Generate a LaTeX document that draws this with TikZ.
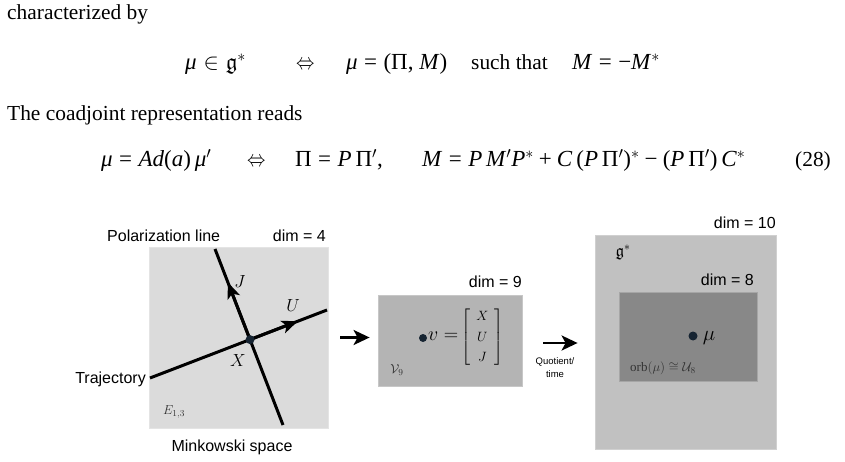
\RequirePackage{fix-cm}
\documentclass[tikz,border=0pt]{standalone}
\usepackage{amsmath}
\usepackage{amssymb}
\usepackage{graphicx}
\usepackage{fontspec}
\setmainfont{Liberation Serif}
\newfontfamily\hv{Liberation Sans}
\usetikzlibrary{arrows.meta,calc}
\definecolor{boxA}{gray}{0.86}
\definecolor{boxB}{gray}{0.705}
\definecolor{boxC}{gray}{0.755}
\definecolor{boxD}{gray}{0.535}
\definecolor{dotc}{RGB}{22,36,50}
\newcommand\msp{\hspace{0.28em}}
\newcommand\bsp{\hspace{0.22em}}
\newcommand\vi[1]{\textit{#1}}
\newcommand\iffsym{\scalebox{0.8}[1]{$\Leftrightarrow$}}
\begin{document}
\begin{tikzpicture}[x=1pt,y=-1pt,
  txt/.style={anchor=base west,inner sep=0pt,font=\fontsize{21.4}{26}\selectfont},
  eqn/.style={anchor=base west,inner sep=0pt,font=\fontsize{23}{27}\selectfont},
  lab/.style={inner sep=0pt,font=\hv\fontsize{16}{19}\selectfont},
  small/.style={inner sep=0pt,anchor=base,font=\hv\fontsize{9.5}{11}\selectfont},
  mlab/.style={inner sep=0pt,font=\fontsize{17.5}{20}\selectfont},
  slab/.style={inner sep=0pt,text=black!80,font=\fontsize{13}{15}\selectfont},
  panel/.style={draw=#1!75!white,line width=0.8pt,fill=#1,inner sep=0pt},
  heavy/.style={line width=3pt,black},
  midarrow/.style={line width=3pt,-{Stealth[length=16pt,width=13pt,inset=4pt]}},
  bigarrow/.style={line width=2.6pt,-{Stealth[length=16pt,width=15pt,inset=4pt]}},
  pt/.style={circle,fill=dotc,inner sep=0pt,minimum size=#1}]
\useasboundingbox (0,0) rectangle (845,462);
\fill[white] (0,0) rectangle (845,462);

% ---- text above the figure ----
\node[txt] (l1) at (7,20) {characterized by};
\node[eqn] (e1a) at (185,70) {\vi{μ}\hspace{0.3em}$\in$\hspace{0.3em}$\mathfrak{g}^{*}$};
\node[eqn] (e1b) at (296,70) {\iffsym};
\node[eqn] (e1c) at (346,70) {\vi{μ}\msp=\msp(Π, \vi{M})};
\node[txt] (e1d) at (471,70) {such that};
\node[eqn] (e1e) at (572,70) {\vi{M}\msp=\msp−\vi{M}$^{*}$};
\node[txt] (l3) at (7,121) {The coadjoint representation reads};
\node[eqn] (e2a) at (101,167) {\vi{μ}\msp=\msp\vi{Ad}(\vi{a})\,\vi{μ}$'$};
\node[eqn] (e2b) at (247,167) {\iffsym};
\node[eqn] (e2c) at (295,167) {Π\msp=\msp\vi{P}\,Π$'$,};
\node[eqn] (e2d) at (422,167) {\vi{M}\msp=\msp\vi{P}\,\vi{M}$'$\vi{P}$^{*}$\bsp+\bsp\vi{C}\,(\vi{P}\,Π$'$)$^{*}$\bsp−\bsp(\vi{P}\,Π$'$)\,\vi{C}$^{*}$};
\node[txt] (e2e) at (795,167) {(28)};

% ---- panels ----
\node[panel=boxA,minimum width=179pt,minimum height=181pt] (lbox) at (238.5,337.5) {};
\node[panel=boxB,minimum width=144pt,minimum height=91pt] (mbox) at (450,340.5) {};
\node[panel=boxC,minimum width=181pt,minimum height=214pt] (rbox) at (685.5,342) {};
\node[panel=boxD,minimum width=138pt,minimum height=89pt] (ibox) at (688,336.5) {};

% ---- Minkowski space ----
\coordinate (T1) at (150,378);
\coordinate (T2) at (327,310);
\coordinate (P1) at (215,249);
\coordinate (P2) at (283,425);
\coordinate (X) at (intersection of T1--T2 and P1--P2);
\coordinate (Utip) at ($(T1)!0.835!(T2)$);
\coordinate (Jtip) at ($(P2)!0.81!(P1)$);
\draw[heavy] (T1) -- (T2);
\draw[heavy] (P1) -- (P2);
\draw[midarrow] (X) -- (Utip);
\draw[midarrow] (X) -- (Jtip);
\node[pt=9pt] (xdot) at (X) {};

\node[lab,anchor=base west] (pol) at (107,242) {Polarization line};
\node[lab,anchor=base east] (d4) at (326,242) {dim = 4};
\node[lab,anchor=base east] (traj) at (146,383) {Trajectory};
\node[lab,anchor=base] (mink) at (232,451) {Minkowski space};
\node[mlab] (J) at (240,282) {$J$};
\node[mlab] (U) at (293,306) {$U$};
\node[mlab] (Xl) at (238,361) {$X$};
\node[slab] (E) at (174,412) {$E_{1,3}$};

% ---- middle panel ----
\node[lab,anchor=base east] (d9) at (522,287) {dim = 9};
\node[pt=8pt] (vdot) at (423,338) {};
\node[inner sep=0pt,anchor=west] (veq) at (428,337)
  {{\fontsize{20}{22}\selectfont$v=$}\hspace{3pt}{\fontsize{13.5}{20.5}\selectfont$\left[\hspace{6pt}\begin{matrix}X\\U\\J\end{matrix}\hspace{6pt}\right]$}};
\node[slab] (V9) at (397,370) {$\mathcal{V}_{9}$};

% ---- right panel ----
\node[lab,anchor=base east] (d10) at (776,229) {dim = 10};
\node[lab,anchor=base east] (d8) at (754,285) {dim = 8};
\node[inner sep=0pt,font=\fontsize{17}{19}\selectfont] (g) at (623,252) {$\mathfrak{g}^{*}$};
\node[pt=9pt] (mudot) at (693,336) {};
\node[inner sep=0pt,font=\fontsize{21}{24}\selectfont] (mu) at (709,338) {$\mu$};
\node[slab] (orb) at (663,368) {$\mathrm{orb}(\mu)\cong\mathcal{U}_{8}$};

% ---- arrows ----
\draw[bigarrow,shorten <=12pt,shorten >=8pt] (lbox.east) -- (lbox.east -| mbox.west);
\draw[bigarrow,shorten <=21pt,shorten >=17pt] ([yshift=-2.5pt]mbox.east) -- ([yshift=-2.5pt]mbox.east -| rbox.west);
\node[small] (q1) at (555,364) {Quotient/};
\node[small] (q2) at (555,377) {time};
\end{tikzpicture}
\end{document}
